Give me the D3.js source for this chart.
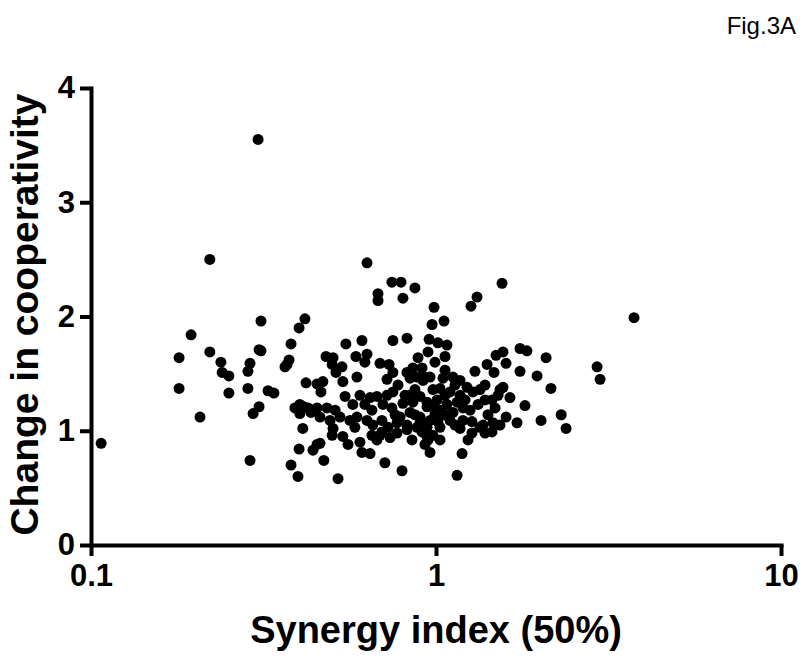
<!DOCTYPE html>
<html>
<head>
  <meta charset="utf-8">
  <title>Fig.3A</title>
  <script src="https://cdn.jsdelivr.net/npm/d3@7"></script>
  <style>
    body { margin: 0; background: #fff; }
    svg text { font-family: "Liberation Sans", Arial, sans-serif; }
  </style>
</head>
<body>
<script>

// synergy index (50%) of each combination, x axis (log)
var synergyIndex = [
  0.107, 0.180, 0.180, 0.195, 0.207, 0.221, 0.221, 0.238, 0.240, 0.251,
  0.251, 0.289, 0.285, 0.285, 0.311, 0.307, 0.311, 0.307, 0.295, 0.289,
  0.326, 0.339, 0.380, 0.401, 0.417, 0.375, 0.370, 0.365, 0.420, 0.452,
  0.470, 0.464, 0.390, 0.403, 0.414, 0.426, 0.434, 0.403, 0.411, 0.401,
  0.440, 0.452, 0.461, 0.380, 0.398, 0.473, 0.520, 0.305,
  0.631, 0.745, 0.792, 0.869, 0.679, 0.679, 0.802, 0.987, 1.055, 0.974,
  1.315, 1.263, 1.554, 3.75,
  0.548, 0.610, 0.750, 0.824, 0.955, 1.013, 1.076, 0.948, 0.993, 1.062,
  0.480, 0.503, 0.500, 0.534, 0.513, 0.537, 0.586, 0.631, 0.622, 0.590,
  0.688, 0.731, 0.750, 0.721, 0.824, 0.857, 0.841, 0.881, 0.911, 0.929,
  0.961, 0.917, 1.297, 1.406, 1.493, 1.564, 1.596, 1.752, 1.835, 2.085,
  1.473, 1.752, 1.963, 2.93, 2.99,
  1.048, 1.120, 1.174, 1.230, 1.280, 1.341, 0.980, 1.027, 1.098, 1.174,
  1.151, 1.197, 1.533, 1.564, 1.513, 1.638, 1.387, 1.453, 1.483, 1.811,
  2.154, 0.545, 0.574, 0.602, 0.644, 0.674, 0.721, 0.750, 0.702, 0.745,
  0.802, 0.857, 0.787, 0.841, 0.899, 0.942, 0.961, 0.461, 0.493, 0.527,
  0.452, 0.483, 0.510, 0.563, 0.590, 0.631, 0.656, 0.697, 0.726, 0.771,
  0.824, 0.881, 0.942, 0.899, 0.942, 0.980, 1.027, 1.076, 1.120, 1.098,
  1.013, 0.899, 1.197, 1.271, 1.369, 1.463, 1.596, 1.717, 2.016, 2.306,
  2.383,
  1.027, 0.942, 0.980, 0.929, 0.961, 1.174, 1.271, 1.387, 1.453, 1.341,
  0.503, 0.500, 0.537, 0.556, 0.582, 0.602, 0.652, 0.674, 0.697, 0.736,
  0.771, 0.824, 0.911, 0.610, 0.644, 0.711, 0.797, 0.948, 1.190, 1.151,
  0.869, 0.813, 1.062, 1.007, 1.135, 1.214, 1.255, 1.324, 1.062, 1.135,
  0.993, 0.869, 0.841, 0.776, 0.652, 0.622, 0.761, 0.688, 0.852, 1.027,
  1.238, 1.415, 1.533, 1.387, 1.062, 0.887
];

// change in cooperativity, y axis
var cooperativity = [
  0.89, 1.64, 1.37, 1.84, 1.12, 2.50, 1.69, 1.60, 1.51, 1.48,
  1.33, 1.59, 1.52, 1.37, 1.96, 1.71, 1.70, 1.21, 1.15, 0.74,
  1.35, 1.33, 1.76, 1.90, 1.98, 1.62, 1.58, 1.56, 1.42, 1.41,
  1.43, 1.34, 1.20, 1.23, 1.21, 1.20, 1.16, 1.15, 1.02, 0.84,
  0.83, 0.88, 0.89, 0.70, 0.60, 0.74, 0.58, 3.55,
  2.47, 2.30, 2.30, 2.25, 2.20, 2.14, 2.16, 2.08, 1.96, 1.93,
  2.17, 2.09, 2.29, 1.99,
  1.76, 1.79, 1.79, 1.81, 1.80, 1.77, 1.75, 1.69, 1.60, 1.65,
  1.65, 1.64, 1.58, 1.56, 1.51, 1.43, 1.65, 1.67, 1.60, 1.47,
  1.59, 1.58, 1.51, 1.45, 1.51, 1.55, 1.46, 1.47, 1.55, 1.47,
  1.47, 1.44, 1.52, 1.58, 1.66, 1.69, 1.59, 1.72, 1.70, 1.64,
  1.51, 1.52, 1.48, 1.56, 1.45,
  1.46, 1.47, 1.44, 1.38, 1.34, 1.36, 1.36, 1.37, 1.34, 1.31,
  1.25, 1.20, 1.36, 1.38, 1.31, 1.29, 1.27, 1.27, 1.20, 1.22,
  1.37, 1.30, 1.23, 1.31, 1.29, 1.30, 1.31, 1.34, 1.23, 1.20,
  1.24, 1.25, 1.12, 1.16, 1.12, 1.21, 1.09, 1.12, 1.09, 1.12,
  1.20, 1.20, 1.18, 1.09, 1.12, 1.09, 1.05, 1.09, 1.03, 1.07,
  1.05, 1.03, 1.03, 1.30, 1.25, 1.21, 1.18, 1.23, 1.16, 1.09,
  1.08, 1.07, 1.09, 1.08, 1.05, 1.07, 1.12, 1.07, 1.09, 1.14,
  1.02,
  1.03, 0.95, 0.96, 0.88, 0.81, 1.02, 0.98, 0.98, 0.99, 1.03,
  1.02, 0.96, 0.95, 0.88, 1.03, 0.90, 0.96, 0.92, 0.99, 0.94,
  0.98, 1.01, 0.99, 0.81, 0.80, 0.72, 0.65, 0.92, 0.80, 0.61,
  1.36, 1.31, 1.31, 1.27, 1.40, 1.27, 1.18, 1.23, 1.14, 1.05,
  1.14, 1.14, 1.31, 1.40, 1.18, 1.23, 1.14, 0.96, 0.92, 0.92,
  0.92, 1.14, 1.05, 1.40, 1.53, 1.64
];

var xTicks = [0.1, 1, 10];
var yTicks = [0, 1, 2, 3, 4];
var xTitle = "Synergy index (50%)";
var yTitle = "Change in cooperativity";
var figLabel = "Fig.3A";

var width = 800,
    height = 659;

var points = synergyIndex.map(function(d, i) { return [d, cooperativity[i]]; });

var svg = d3.select("body").append("svg")
    .attr("width", width)
    .attr("height", height);

var x = d3.scaleLog().domain([0.1, 10]).range([91, 781]);
var y = d3.scaleLinear().domain([0, 4]).range([545, 88]);

// points first, axes drawn over them
svg.append("g")
  .selectAll("circle")
  .data(points)
  .enter().append("circle")
    .attr("cx", function(d) { return x(d[0]); })
    .attr("cy", function(d) { return y(d[1]); })
    .attr("r", 5.5)
    .attr("fill", "#000");

var xAxis = svg.append("g")
    .attr("transform", "translate(0," + y(0) + ")")
    .call(d3.axisBottom(x)
      .tickValues(xTicks)
      .tickFormat(d3.format("~g"))
      .tickSize(11)
      .tickSizeOuter(0)
      .tickPadding(8));

var yAxis = svg.append("g")
    .attr("transform", "translate(" + x(0.1) + ",0)")
    .call(d3.axisLeft(y)
      .tickValues(yTicks)
      .tickFormat(d3.format("d"))
      .tickSize(11)
      .tickSizeOuter(0)
      .tickPadding(5));

[xAxis, yAxis].forEach(function(g) {
  g.select(".domain")
    .attr("stroke", "#000")
    .attr("stroke-width", 4)
    .attr("stroke-linecap", "square");
  g.selectAll(".tick line")
    .attr("stroke", "#000")
    .attr("stroke-width", 4);
  g.selectAll(".tick text")
    .attr("fill", "#000")
    .style("font-size", "31px")
    .style("font-weight", "bold");
});

// axis titles
svg.append("text")
    .attr("x", x(1))
    .attr("y", 643)
    .attr("text-anchor", "middle")
    .style("font-size", "38px")
    .style("font-weight", "bold")
    .text(xTitle);

svg.append("text")
    .attr("transform", "translate(38," + (y(2) - 2) + ") rotate(-90)")
    .attr("text-anchor", "middle")
    .style("font-size", "39px")
    .style("font-weight", "bold")
    .text(yTitle);

svg.append("text")
    .attr("x", 796)
    .attr("y", 34)
    .attr("text-anchor", "end")
    .style("font-size", "24px")
    .text(figLabel);

</script>
</body>
</html>
